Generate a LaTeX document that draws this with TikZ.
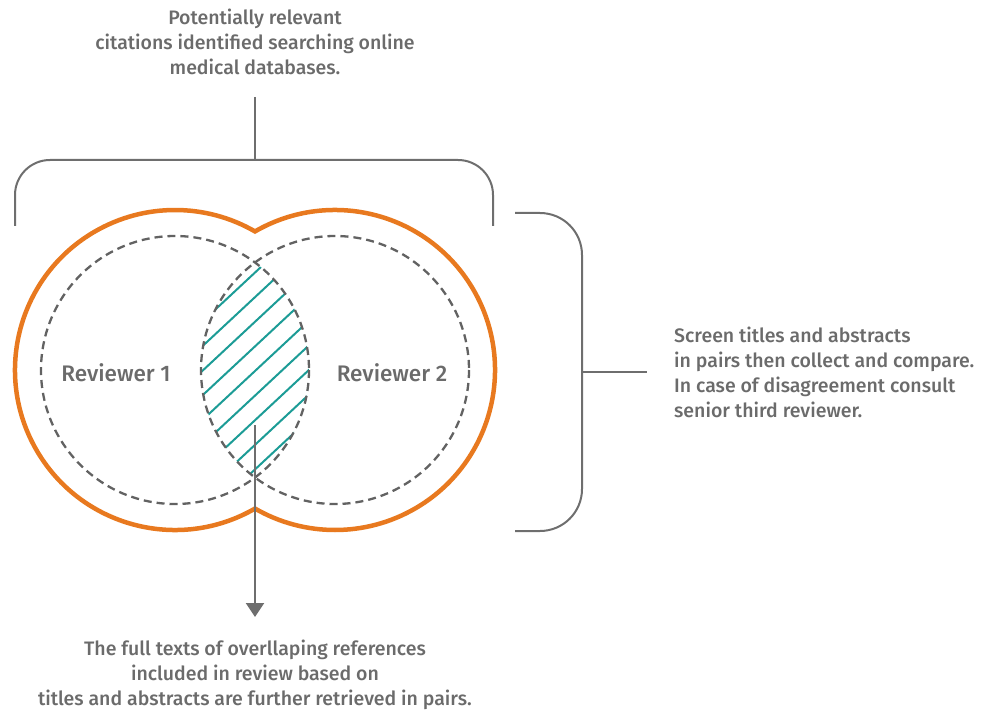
\documentclass[tikz,border=0pt]{standalone}
\usepackage{fontspec}
\setmainfont{Fira Sans}[UprightFont=* Medium]
\usepackage{xcolor}
\usepackage{tikz}
\usetikzlibrary{arrows.meta, positioning}

\definecolor{revorange}{HTML}{E8791F}
\definecolor{lensteal}{HTML}{1C9C96}
\definecolor{linegray}{HTML}{6E6E6E}
\definecolor{dashgray}{HTML}{626262}
\definecolor{textgray}{HTML}{6B6B6B}

\begin{document}
\begin{tikzpicture}[x=1pt, y=-1pt, >={Triangle[width=18pt,length=14pt]}]
    \tikzstyle{label text}=[text=textgray, font=\fontsize{19.5}{25}\selectfont, inner sep=0pt]
    \tikzstyle{reviewer}=[text=textgray, font=\fontsize{22.5}{25}\selectfont, inner sep=0pt]
    \tikzstyle{bracket}=[draw=linegray, line width=2pt]
    \tikzstyle{outline}=[draw=revorange, line width=4.5pt]
    \tikzstyle{pool}=[draw=dashgray, line width=2.3pt, dash pattern=on 8pt off 5pt]
    \tikzstyle{hatch}=[draw=lensteal, line width=2pt]

    \useasboundingbox (0,0) rectangle (984,711);

    % --- NODES ---
    \node[label text, align=center] (search) at (255,42) {Potentially relevant\\citations identified searching online\\medical databases.};
    \node[label text, align=left, anchor=west] (screen) at (674,372) {Screen titles and abstracts\\in pairs then collect and compare.\\In case of disagreement consult\\senior third reviewer.};
    \node[label text, align=center] (fulltext) at (255,675) {The full texts of overllaping references\\included in review based on\\titles and abstracts are further retrieved in pairs.};
    \node[reviewer] (rev1) at (116,373) {Reviewer 1};
    \node[reviewer] (rev2) at (392,373) {Reviewer 2};

    % circle centres and connector ends
    \coordinate (lc) at (175,370);
    \coordinate (rc) at (335,370);
    \coordinate (stub) at (255,97);
    \coordinate (topbrace) at (255,160);
    \coordinate (sidebrace) at (582,372);
    \coordinate (sidestub) at (647,372);
    \coordinate (overlap) at (255,425);
    \coordinate (tip) at (255,617);

    % --- SETS ---
    % Orange outline round both reviewers
    \draw[outline] (lc) ++(60:160) arc[start angle=60, end angle=300, radius=160]
        arc[start angle=240, end angle=480, radius=160] -- cycle;

    % Overlap, hatched
    \begin{scope}
        \clip (lc) circle[radius=134];
        \clip (rc) circle[radius=134];
        \begin{scope}[shift={(255,371)}, rotate=43]
            \foreach \d in {-9,...,9}
                \draw[hatch] (-220,\d*18) -- (220,\d*18);
        \end{scope}
    \end{scope}

    \draw[pool] (lc) circle[radius=134];
    \draw[pool] (rc) circle[radius=134];

    % --- BRACKETS ---
    \draw[bracket] (stub) -- (topbrace);
    \draw[bracket, rounded corners=35pt] (15,226) -- (15,160) -- (493,160) -- (493,226);
    \draw[bracket, rounded corners=42pt] (515,213) -- (582,213) -- (582,531) -- (515,531);
    \draw[bracket] (sidebrace) -- (sidestub);

    % --- ARROW ---
    \draw[bracket, ->, fill=linegray] (overlap) -- (tip);

\end{tikzpicture}
\end{document}
